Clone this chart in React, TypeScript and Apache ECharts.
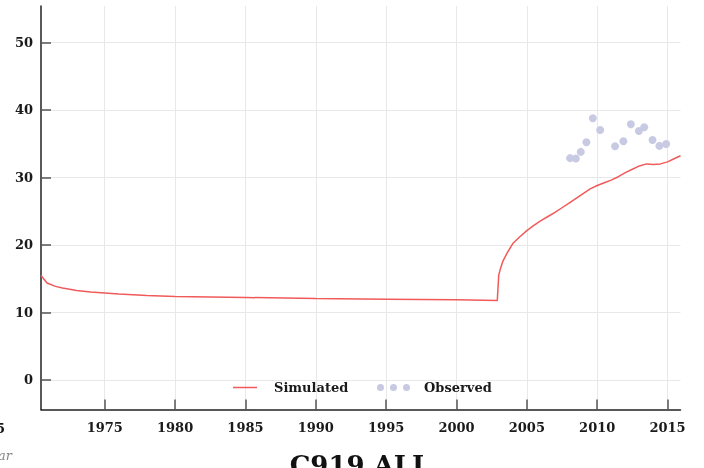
import React, { useEffect, useRef } from "react";
import * as echarts from "echarts";

const simYears = [1970.47, 1970.9, 1971.5, 1972, 1973, 1974, 1975, 1976, 1978, 1980, 1985, 1990, 1995, 2000, 2002.9, 2003.0, 2003.1, 2003.3, 2003.6, 2004, 2004.5, 2005, 2005.5, 2006, 2006.5, 2007, 2007.5, 2008, 2008.5, 2009, 2009.5, 2010, 2010.5, 2011, 2011.5, 2012, 2012.5, 2013, 2013.5, 2014, 2014.5, 2015, 2015.5, 2015.92];
const simValues = [15.45, 14.35, 13.85, 13.6, 13.25, 13.0, 12.85, 12.7, 12.5, 12.35, 12.2, 12.05, 11.95, 11.85, 11.77, 15.5, 16.3, 17.6, 18.8, 20.2, 21.2, 22.1, 22.9, 23.6, 24.2, 24.8, 25.5, 26.2, 26.9, 27.6, 28.3, 28.8, 29.2, 29.6, 30.1, 30.7, 31.2, 31.7, 32.0, 31.9, 32.0, 32.3, 32.8, 33.2];

const obsYears = [2008.07, 2008.48, 2008.83, 2009.23, 2009.69, 2010.21, 2011.27, 2011.86, 2012.39, 2012.96, 2013.34, 2013.93, 2014.42, 2014.9];
const obsValues = [32.85, 32.8, 33.78, 35.2, 38.76, 37.03, 34.62, 35.36, 37.87, 36.88, 37.43, 35.55, 34.67, 34.96];

const xTicks = [1975, 1980, 1985, 1990, 1995, 2000, 2005, 2010, 2015];
const yTicks = [0, 10, 20, 30, 40, 50];

const FONT = "DejaVu Serif";

export default function App() {
  const ref = useRef<HTMLDivElement>(null);
  useEffect(() => {
    if (!ref.current) return;
    const chart = echarts.init(ref.current, undefined, { renderer: "svg" });
    const simData = simYears.map((y, i) => [y, simValues[i]]);
    const obsData = obsYears.map((y, i) => [y, obsValues[i]]);
    const dots = "path://M0,3.5a3.5,3.5 0 1,0 7,0a3.5,3.5 0 1,0 -7,0Z M13,3.5a3.5,3.5 0 1,0 7,0a3.5,3.5 0 1,0 -7,0Z M26,3.5a3.5,3.5 0 1,0 7,0a3.5,3.5 0 1,0 -7,0Z";
    const lineIcon = "path://M0,0L24,0L24,1.5L0,1.5Z";
    const labelStyle = { fontFamily: FONT, fontWeight: "bold" as const, fontSize: 13, color: "#1a1a1a" };
    chart.setOption({
      animation: false,
      grid: { left: 41, right: 23.5, top: 6, bottom: 58.5, containLabel: false },
      xAxis: {
        type: "value",
        min: 1970.47,
        max: 2015.92,
        axisLine: { show: true, onZero: false, lineStyle: { color: "#222", width: 1.5 } },
        axisTick: { show: true, inside: true, length: 10, customValues: xTicks, lineStyle: { color: "#555", width: 1.5 } },
        axisLabel: { ...labelStyle, margin: 11, customValues: xTicks, formatter: (v: number) => String(Math.round(v)) },
        splitLine: { show: true, lineStyle: { color: "#e8e8e8", width: 1 } },
      },
      yAxis: {
        type: "value",
        min: -4.4,
        max: 55.4,
        axisLine: { show: true, onZero: false, lineStyle: { color: "#222", width: 1.5 } },
        axisTick: { show: true, inside: true, length: 10, customValues: yTicks, lineStyle: { color: "#555", width: 1.5 } },
        axisLabel: { ...labelStyle, margin: 8, customValues: yTicks, formatter: (v: number) => String(Math.round(v)) },
        splitLine: { show: true, lineStyle: { color: "#e8e8e8", width: 1 } },
      },
      legend: [
        {
          data: [{ name: "Simulated", icon: lineIcon }],
          left: 233,
          top: 381,
          itemWidth: 24,
          itemHeight: 14,
          padding: 0,
          textStyle: { ...labelStyle, padding: [0, 0, 0, 12] },
        },
        {
          data: [{ name: "Observed", icon: dots }],
          left: 377,
          top: 381,
          itemWidth: 33,
          itemHeight: 14,
          padding: 0,
          textStyle: { ...labelStyle, padding: [0, 0, 0, 9] },
        },
      ],
      graphic: [
        { type: "text", x: 360, y: 465, style: { text: "C919 ALL", fontFamily: FONT, fontWeight: "bold", fontSize: 26, fill: "#111", textAlign: "center", textVerticalAlign: "middle" } },
        { type: "text", x: 5, y: 428, style: { text: "5", fontFamily: FONT, fontWeight: "bold", fontSize: 13, fill: "#1a1a1a", textAlign: "right", textVerticalAlign: "middle" } },
        { type: "text", x: 12, y: 455, style: { text: "Year", fontFamily: FONT, fontStyle: "italic", fontSize: 13, fill: "#888", textAlign: "right", textVerticalAlign: "middle" } },
      ],
      series: [
        {
          name: "Simulated",
          type: "line",
          data: simData,
          symbol: "none",
          lineStyle: { color: "#f05a5a", width: 1.5 },
          itemStyle: { color: "#f05a5a" },
        },
        {
          name: "Observed",
          type: "scatter",
          data: obsData,
          symbolSize: 8,
          itemStyle: { color: "#c8cae3", opacity: 1 },
        },
      ],
    });
    return () => chart.dispose();
  }, []);
  return <div ref={ref} style={{ position: "fixed", left: 0, top: 0, width: 704, height: 468 }} />;
}
